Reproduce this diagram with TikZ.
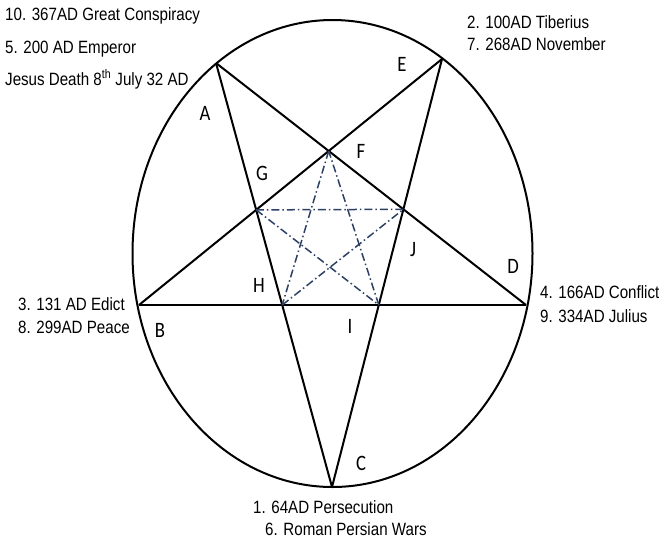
\documentclass[tikz,border=0pt]{standalone}
\usepackage{fontspec}
\setmainfont{Liberation Sans}
\newfontfamily\datefont[FakeStretch=0.85]{Liberation Sans}
\newfontfamily\letterfont[FakeStretch=0.85]{Carlito}
\definecolor{starblue}{RGB}{45,65,100}

\begin{document}
\begin{tikzpicture}[x=1pt, y=-1pt,
		outline/.style={line width=2pt},
		innerstar/.style={line width=1.5pt, starblue, dash pattern=on 8pt off 3pt on 1.5pt off 3pt},
		datetext/.style={anchor=base west, inner sep=0pt, font=\datefont\fontsize{17.8}{20}\selectfont},
		pointtext/.style={font=\letterfont\fontsize{22}{25}\selectfont}]
			\useasboundingbox (0,0) rectangle (659,539);

			% Kreis und Sternspitzen
			\draw[outline] (332.5,253.5) ellipse [x radius=200pt, y radius=233.5pt];
			\coordinate (tl) at (216,63);
			\coordinate (tr) at (442,59);
			\coordinate (ml) at (139,305);
			\coordinate (mr) at (526,305);
			\coordinate (bo) at (332,487);

			% Pentagramm
			\draw[outline] (tl) -- (mr);
			\draw[outline] (tl) -- (bo);
			\draw[outline] (tr) -- (ml);
			\draw[outline] (tr) -- (bo);
			\draw[outline] (ml) -- (mr);

			% innere Ecken
			\coordinate (p1) at (intersection of tl--mr and tr--ml);
			\coordinate (p2) at (intersection of tl--bo and tr--ml);
			\coordinate (p3) at (intersection of tl--mr and tr--bo);
			\coordinate (p4) at (intersection of tl--bo and ml--mr);
			\coordinate (p5) at (intersection of tr--bo and ml--mr);

			% innerer Stern
			\draw[innerstar] (p1) -- (p4);
			\draw[innerstar] (p4) -- (p3);
			\draw[innerstar] (p3) -- (p2);
			\draw[innerstar] (p2) -- (p5);
			\draw[innerstar] (p5) -- (p1);

			% Buchstaben
			\node[pointtext] (la) at (205,113) {A};
			\node[pointtext] (lb) at (160,330) {B};
			\node[pointtext] (lc) at (361,463) {C};
			\node[pointtext] (ld) at (513,266) {D};
			\node[pointtext] (le) at (402,64) {E};
			\node[pointtext] (lf) at (361,151) {F};
			\node[pointtext] (lg) at (262,173) {G};
			\node[pointtext] (lh) at (259,285) {H};
			\node[pointtext] (li) at (350,326) {I};
			\node[pointtext] (lj) at (413,250) {J};

			% Daten
			\node[datetext] (d10) at (5,20) {10. 367AD Great Conspiracy};
			\node[datetext] (d5) at (5,53) {5. 200 AD Emperor};
			\node[datetext] (djd) at (5,85) {Jesus Death 8\textsuperscript{th} July 32 AD};
			\node[datetext] (d2) at (467,28) {2. 100AD Tiberius};
			\node[datetext] (d7) at (467,50) {7. 268AD November};
			\node[datetext] (d3) at (18,310) {3. 131 AD Edict};
			\node[datetext] (d8) at (18,333) {8. 299AD Peace};
			\node[datetext] (d4) at (540,298) {4. 166AD Conflict};
			\node[datetext] (d9) at (540,322) {9. 334AD Julius};
			\node[datetext] (d1) at (253,513) {1. 64AD Persecution};
			\node[datetext] (d6) at (265,535) {6. Roman Persian Wars};
		\end{tikzpicture}
\end{document}
